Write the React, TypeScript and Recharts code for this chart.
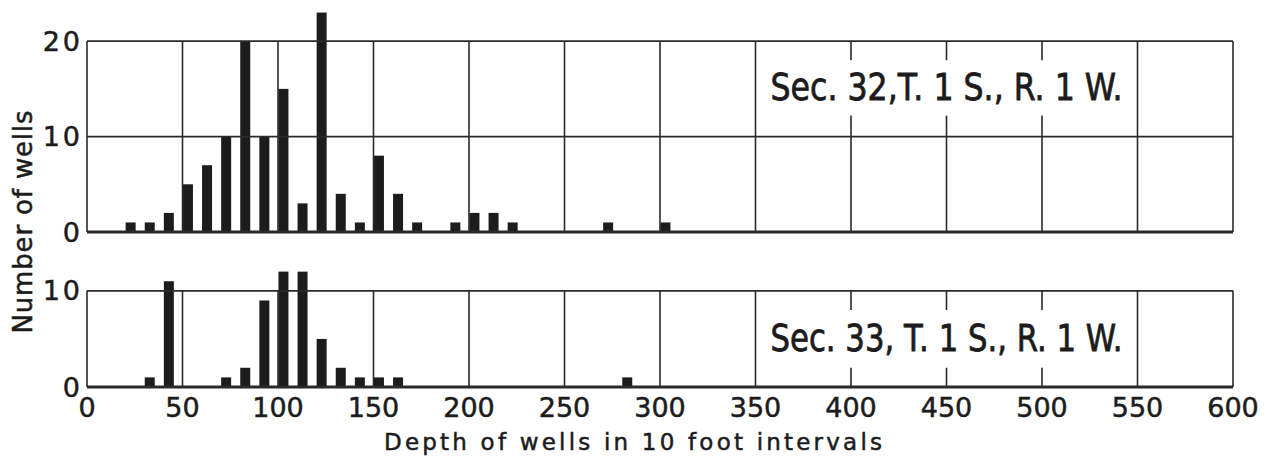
import React from 'react';
import { BarChart, Bar, XAxis, YAxis, ReferenceLine, ReferenceArea } from 'recharts';

const FONT = '"DejaVu Sans", "Liberation Sans", sans-serif';
const INK = '#1c1c1c';
const RULE = '#2a2a2a';

// depth axis, ticks every 50 intervals
const X_TICKS = [0, 50, 100, 150, 200, 250, 300, 350, 400, 450, 500, 550, 600];

// Sec. 32 — start of each 10 ft interval and number of wells in it
const SEC32_DEPTH = [20, 30, 40, 50, 60, 70, 80, 90, 100, 110, 120, 130, 140, 150, 160, 170, 190, 200, 210, 220, 270, 300];
const SEC32_WELLS = [1, 1, 2, 5, 7, 10, 20, 10, 15, 3, 23, 4, 1, 8, 4, 1, 1, 2, 2, 1, 1, 1];

// Sec. 33
const SEC33_DEPTH = [30, 40, 70, 80, 90, 100, 110, 120, 130, 140, 150, 160, 280];
const SEC33_WELLS = [1, 11, 1, 2, 9, 12, 12, 5, 2, 1, 1, 1, 1];

const SEC32_TICKS = [0, 10, 20];
const SEC33_TICKS = [0, 10];

const SEC32_LABEL = 'Sec. 32,T. 1 S., R. 1 W.';
const SEC33_LABEL = 'Sec. 33, T. 1 S., R. 1 W.';

const toRows = (depth: number[], wells: number[]) => depth.map((d, i) => ({ depth: d, wells: wells[i] }));

// bar fills the first half of its 10 ft interval
const IntervalBar = (p: any) => (
  <rect x={p.x + p.width / 2} y={p.y} width={p.width} height={p.height} fill={INK} />
);

// slightly heavier lettering
const inked = { fill: INK, stroke: INK, strokeWidth: 0.5, fontFamily: FONT };

interface Gap { xs: number[]; lo: number; hi: number }

// frame + grid, with vertical rules broken where the section title sits
function gridLines(top: number, rows: number[], gap: Gap) {
  const out: React.ReactNode[] = [];
  X_TICKS.forEach((x) => {
    const spans = gap.xs.includes(x) ? [[0, gap.lo], [gap.hi, top]] : [[0, top]];
    spans.forEach(([a, b], k) => {
      out.push(
        <ReferenceLine key={`v${x}-${k}`} segment={[{ x, y: a }, { x, y: b }]} stroke={RULE} strokeWidth={1.6} ifOverflow="visible" />
      );
    });
  });
  rows.forEach((y) => {
    out.push(
      <ReferenceLine key={`h${y}`} segment={[{ x: 0, y }, { x: 600, y }]} stroke={RULE} strokeWidth={y === 0 ? 2.8 : 1.6} ifOverflow="visible" />
    );
  });
  return out;
}

const titleShape = (text: string) => (p: any) => (
  <text
    x={p.x + p.width / 2}
    y={p.y + p.height / 2}
    textAnchor="middle"
    dominantBaseline="central"
    fontSize={37}
    textLength={352}
    lengthAdjust="spacingAndGlyphs"
    {...inked}
    strokeWidth={0.8}
  >
    {text}
  </text>
);

interface PanelProps {
  rows: { depth: number; wells: number }[];
  yMax: number;
  yTicks: number[];
  gap: Gap;
  label: string;
  height: number;
  margin: { top: number; right: number; bottom: number; left: number };
  showX: boolean;
}

function Panel({ rows, yMax, yTicks, gap, label, height, margin, showX }: PanelProps) {
  const top = yTicks[yTicks.length - 1];
  return (
    <BarChart width={1278} height={height} data={rows} margin={margin}>
      <XAxis
        type="number"
        dataKey="depth"
        domain={[0, 600]}
        ticks={X_TICKS}
        interval={0}
        hide={!showX}
        height={72}
        axisLine={false}
        tickLine={false}
        tickSize={0}
        tickMargin={11}
        tick={{ ...inked, fontSize: 27 }}
      />
      <YAxis
        type="number"
        domain={[0, yMax]}
        ticks={yTicks}
        interval={0}
        allowDataOverflow
        width={87}
        axisLine={false}
        tickLine={false}
        tickSize={0}
        tickMargin={4}
        tick={{ ...inked, fontSize: 27, letterSpacing: 3 }}
      />
      {gridLines(top, yTicks, gap)}
      <ReferenceArea x1={360} x2={540} y1={gap.lo} y2={gap.hi} ifOverflow="visible" shape={titleShape(label)} />
      <Bar dataKey="wells" barSize={10} shape={IntervalBar} isAnimationActive={false} />
    </BarChart>
  );
}

export default function App() {
  return (
    <div style={{ position: 'absolute', left: 0, top: 0, width: 1278, height: 459, background: '#fff', fontFamily: FONT }}>
      <div style={{ position: 'absolute', left: 0, top: 0 }}>
        <Panel
          rows={toRows(SEC32_DEPTH, SEC32_WELLS)}
          yMax={24}
          yTicks={SEC32_TICKS}
          gap={{ xs: [400, 450, 500], lo: 12.2, hi: 18 }}
          label={SEC32_LABEL}
          height={250}
          margin={{ top: 3, right: 45, bottom: 18, left: 0 }}
          showX={false}
        />
      </div>
      <div style={{ position: 'absolute', left: 0, top: 250 }}>
        <Panel
          rows={toRows(SEC33_DEPTH, SEC33_WELLS)}
          yMax={13}
          yTicks={SEC33_TICKS}
          gap={{ xs: [400, 450, 500], lo: 2, hi: 8 }}
          label={SEC33_LABEL}
          height={209}
          margin={{ top: 12, right: 45, bottom: 0, left: 0 }}
          showX
        />
      </div>
      <svg width={1278} height={459} style={{ position: 'absolute', left: 0, top: 0, pointerEvents: 'none' }}>
        <text x={633} y={450} textAnchor="middle" fontSize={23} textLength={498} lengthAdjust="spacing" {...inked}>
          Depth of wells in 10 foot intervals
        </text>
        <text transform="translate(32,222) rotate(-90)" textAnchor="middle" fontSize={26} textLength={223} lengthAdjust="spacing" {...inked}>
          Number of wells
        </text>
      </svg>
    </div>
  );
}
